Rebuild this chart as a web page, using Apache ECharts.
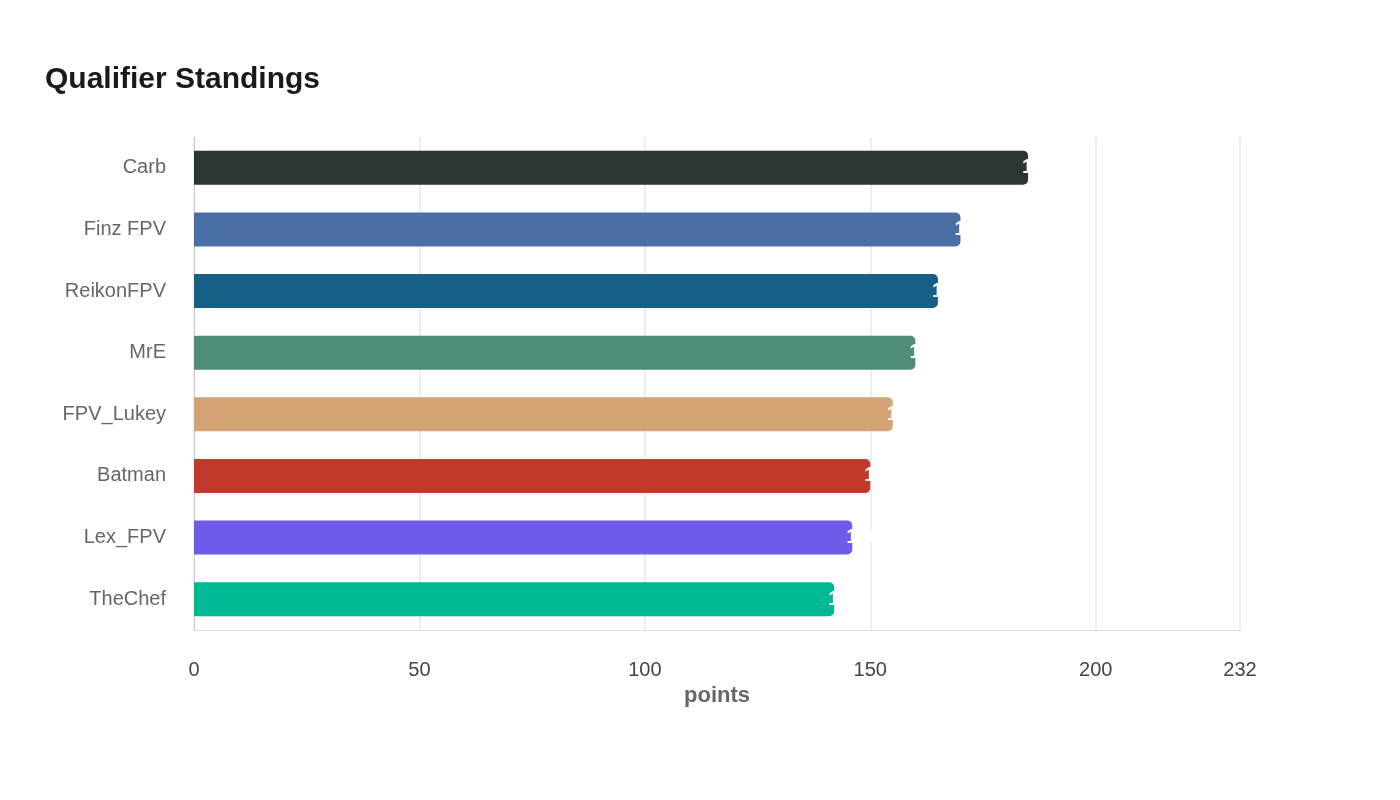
<!DOCTYPE html>
<html>
<head>
<meta charset="utf-8">
<script src="https://cdn.jsdelivr.net/npm/echarts@6/dist/echarts.min.js"></script>
<style>html,body{margin:0;padding:0;background:#fff}#chart{width:1400px;height:800px}</style>
</head>
<body>
<div id="chart"></div>
<script>
// pilots, top to bottom
const pilots = ['Carb', 'Finz FPV', 'ReikonFPV', 'MrE', 'FPV_Lukey', 'Batman', 'Lex_FPV', 'TheChef'];
const points = [185, 170, 165, 160, 155, 150, 146, 142];
const colors = ['#2d3436', '#4a6fa5', '#166088', '#4e8d7c', '#d4a373', '#c0392b', '#6c5ce7', '#00b894'];
const axisMax = 232;

const chart = echarts.init(document.getElementById('chart'));
chart.setOption({
    backgroundColor: '#fff',
    title: {
        text: 'Qualifier Standings',
        left: 40, top: 60,
        textStyle: { fontFamily: 'Liberation Sans', fontSize: 30, fontWeight: 'bold', color: '#1a1a1a' }
    },
    grid: { left: 194, right: 160, top: 137, bottom: 170 },
    xAxis: {
        type: 'value', min: 0, max: axisMax, interval: 50,
        name: 'points', nameLocation: 'middle', nameGap: 48,
        nameTextStyle: { fontFamily: 'Liberation Sans', fontSize: 22, fontWeight: 'bold', color: '#666' },
        axisLine: { show: true, lineStyle: { color: '#ddd' } },
        axisTick: { show: false },
        axisLabel: { fontFamily: 'Liberation Sans', fontSize: 20, color: '#444', margin: 30, showMaxLabel: true },
        splitLine: { show: true, lineStyle: { color: '#eee', width: 2 } }
    },
    yAxis: {
        type: 'category', data: pilots, inverse: true,
        axisLine: { show: true, lineStyle: { color: '#ccc' } },
        axisTick: { show: false },
        axisLabel: { fontFamily: 'Liberation Sans', fontSize: 20, color: '#666', margin: 28 }
    },
    series: [{
        type: 'bar',
        barWidth: 34,
        data: points.map((v, i) => ({ value: v, itemStyle: { color: colors[i] } })),
        itemStyle: { borderRadius: [0, 5, 5, 0] },
        label: {
            show: true, position: 'right', distance: -6,
            color: '#fff', fontFamily: 'Liberation Sans', fontSize: 20, fontWeight: 'bold'
        }
    }]
});
</script>
</body>
</html>
